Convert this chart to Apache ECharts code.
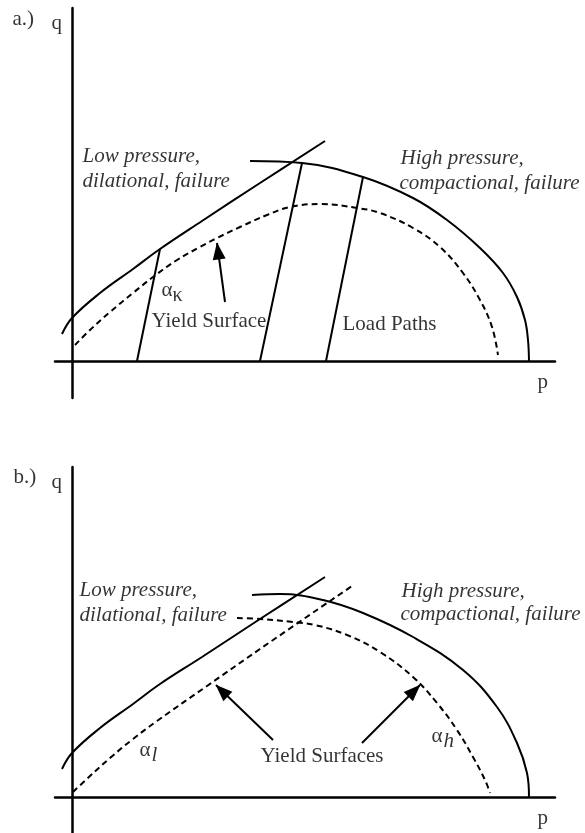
<!DOCTYPE html>
<html>
<head>
<meta charset="utf-8">
<script src="https://cdn.jsdelivr.net/npm/echarts@6.0.0/dist/echarts.min.js"></script>
<style>
  html, body { margin: 0; padding: 0; background: #fff; }
  #chart { width: 585px; height: 833px; }
</style>
</head>
<body>
<div id="chart"></div>
<script>
// ---- a.) one yield surface, three load paths (p, q in plot units) ----
const failureA = [[-10, 27], [0, 43], [28, 68], [61, 92], [88, 112], [130, 140], [188, 178], [253, 220]];
const capA = [[178, 200], [230, 198], [291, 184], [341, 163], [375, 141], [408, 113], [431, 88], [445, 64], [453, 41], [456, 21], [457, 0]];
const yieldA = [[3, 16], [18, 31], [38, 49], [61, 68], [81, 84], [105, 101], [128, 114], [145, 123], [168, 134], [195, 146], [218, 154], [248, 157], [285, 153], [308, 148], [341, 133], [368, 114], [391, 88], [408, 61], [420, 34], [426, 6]];
const loadPathsA = [
  [[65, 0], [88, 112]],
  [[188, 0], [230, 198]],
  [[254, 0], [291, 184]]
];
const arrowsA = [[[153, 59], [145, 118]]];
const notesA = [
  ['a.)', -59, 341],
  ['q', -20, 337],
  ['p', 466, -22],
  ['Low pressure,', 11, 204],
  ['dilational, failure', 11, 179],
  ['High pressure,', 329, 202],
  ['compactional, failure', 328, 177],
  ['{a|α}{s|κ}', 90, 70],
  ['Yield Surface', 80, 39],
  ['Load Paths', 271, 36]
];

// ---- b.) separate low- and high-pressure yield surfaces ----
const failureB = [[-10, 28], [0, 44], [28, 69], [61, 93], [88, 113], [130, 140], [188, 178], [253, 220]];
const capB = [[180, 202], [208, 203], [251, 197], [291, 184], [341, 160], [391, 127], [425, 90], [445, 54], [455, 24], [457, 0]];
const yieldLowB = [[1, 5], [18, 21], [38, 39], [61, 58], [85, 76], [135, 111], [188, 148], [280, 211]];
const yieldHighB = [[165, 179], [188, 178], [221, 175], [243, 172], [275, 162], [308, 145], [341, 120], [365, 94], [385, 67], [401, 40], [413, 17], [418, 4]];
const arrowsB = [[[201, 57], [144, 112]], [[290, 54], [348, 112]]];
const notesB = [
  ['b.)', -58, 319],
  ['q', -20, 314],
  ['p', 466, -22],
  ['Low pressure,', 8, 206],
  ['dilational, failure', 8, 181],
  ['High pressure,', 330, 205],
  ['compactional, failure', 329, 182],
  ['{a|α}{i|l}', 68, 46],
  ['{a|α}{i|h}', 360, 60],
  ['Yield Surfaces', 189, 40]
];

const FONT = 'Liberation Serif';
const INK = '#000';
const TEXT = '#000';
const solid = { color: INK, width: 2 };
const dashed = { color: INK, width: 2, type: [6, 4] };
const italicNotes = ['Low pressure,', 'dilational, failure', 'High pressure,', 'compactional, failure'];

function axisPair(i, xmin, xmax, ymin, ymax) {
  const common = {
    type: 'value',
    gridIndex: i,
    axisTick: { show: false },
    axisLabel: { show: false },
    splitLine: { show: false },
    axisLine: { show: true, onZero: true, lineStyle: { color: INK, width: 2.5 } }
  };
  return [
    Object.assign({}, common, { min: xmin, max: xmax }),
    Object.assign({}, common, { min: ymin, max: ymax })
  ];
}

function curve(i, data, style) {
  return {
    type: 'line', xAxisIndex: i, yAxisIndex: i, data: data,
    smooth: 0.4, symbol: 'none', lineStyle: style, silent: true, z: 3
  };
}

function arrows(i, list) {
  return {
    type: 'line', xAxisIndex: i, yAxisIndex: i, data: [], silent: true,
    markLine: {
      silent: true,
      symbol: ['none', 'triangle'],
      symbolSize: [13, 17],
      symbolOffset: [[0, 0], [0, 8]],
      label: { show: false },
      emphasis: { disabled: true },
      lineStyle: { color: INK, width: 2, type: 'solid' },
      itemStyle: { color: INK },
      data: list.map(a => [{ coord: a[0] }, { coord: a[1] }])
    }
  };
}

function notes(i, list) {
  return {
    type: 'scatter', xAxisIndex: i, yAxisIndex: i, silent: true, clip: false,
    symbolSize: 1, itemStyle: { color: 'rgba(0,0,0,0)' }, z: 5,
    data: list.map(n => ({
      value: [n[1], n[2]],
      label: {
        formatter: n[0],
        fontStyle: italicNotes.indexOf(n[0]) >= 0 ? 'italic' : 'normal'
      }
    })),
    label: {
      show: true, position: [0, 0], align: 'left', verticalAlign: 'middle',
      fontFamily: FONT, fontSize: 21, color: TEXT,
      rich: {
        a: { fontFamily: FONT, fontSize: 21, color: TEXT },
        s: { fontFamily: FONT, fontSize: 20, color: TEXT, padding: [10, 0, 0, 0] },
        i: { fontFamily: FONT, fontSize: 21, fontStyle: 'italic', color: TEXT, padding: [10, 0, 0, 1] }
      }
    }
  };
}

const axesA = axisPair(0, -17, 483, -37, 353);
const axesB = axisPair(1, -17, 483, -36, 330);

const series = [];
// a.)
series.push(curve(0, failureA, solid));
series.push(curve(0, capA, solid));
series.push(curve(0, yieldA, dashed));
loadPathsA.forEach(lp => series.push(Object.assign(curve(0, lp, solid), { smooth: false })));
series.push(arrows(0, arrowsA));
series.push(notes(0, notesA));
// b.)
series.push(curve(1, failureB, solid));
series.push(curve(1, capB, solid));
series.push(curve(1, yieldLowB, dashed));
series.push(curve(1, yieldHighB, dashed));
series.push(arrows(1, arrowsB));
series.push(notes(1, notesB));

const chart = echarts.init(document.getElementById('chart'), null, { renderer: 'canvas' });
chart.setOption({
  animation: false,
  backgroundColor: '#fff',
  grid: [
    { left: 55, top: 8, width: 500, height: 390, outerBoundsMode: 'none', containLabel: false },
    { left: 55, top: 467, width: 500, height: 366, outerBoundsMode: 'none', containLabel: false }
  ],
  xAxis: [axesA[0], axesB[0]],
  yAxis: [axesA[1], axesB[1]],
  series: series
});
</script>
</body>
</html>
